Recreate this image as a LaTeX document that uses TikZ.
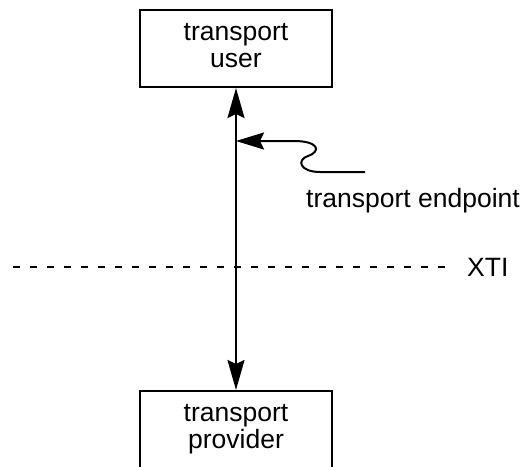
\documentclass[tikz,border=0pt]{standalone}
\usepackage{fontspec}
\setmainfont{Liberation Sans}
\usetikzlibrary{arrows.meta}
\begin{document}
\begin{tikzpicture}[x=1pt,y=-1pt,
  box/.style={draw, line width=2pt, minimum width=192pt, minimum height=77pt,
    align=center, inner sep=0pt, font=\fontsize{26.5}{27}\selectfont},
  lbl/.style={inner sep=0pt, font=\fontsize{26.5}{27}\selectfont},
  head/.tip={Stealth[length=30pt, width=17pt, inset=4pt]},
  smallhead/.tip={Stealth[length=28pt, width=17pt, inset=4pt]}]
\useasboundingbox (0,0) rectangle (522,466);
\clip (0,0) rectangle (522,466);

% the two layers
\node[box] (user) at (236,48.5) {transport\\user\vphantom{p}};
\node[box] (provider) at (236,429.5) {transport\\provider};

% interface boundary
\node[lbl, anchor=west] (xti) at (467,267) {XTI};
\coordinate (dl) at (13,267);
\draw[line width=1.5pt, dash pattern=on 7pt off 10pt] (dl) -- (455,267);

% the connection between user and provider
\draw[line width=2pt, head-head] (user.south) -- (provider.north);

% transport endpoint pointer
\coordinate (ep) at (236,141);
\coordinate (tail) at (365,172);
\draw[line width=2pt, -smallhead]
  (tail) -- (320,172)
  .. controls (300,172) and (296,160) .. (308,156)
  .. controls (322,151) and (318,141) .. (294,141)
  -- (ep);
\node[lbl, anchor=base west] (eplabel) at (306,207) {transport endpoint};
\end{tikzpicture}
\end{document}
